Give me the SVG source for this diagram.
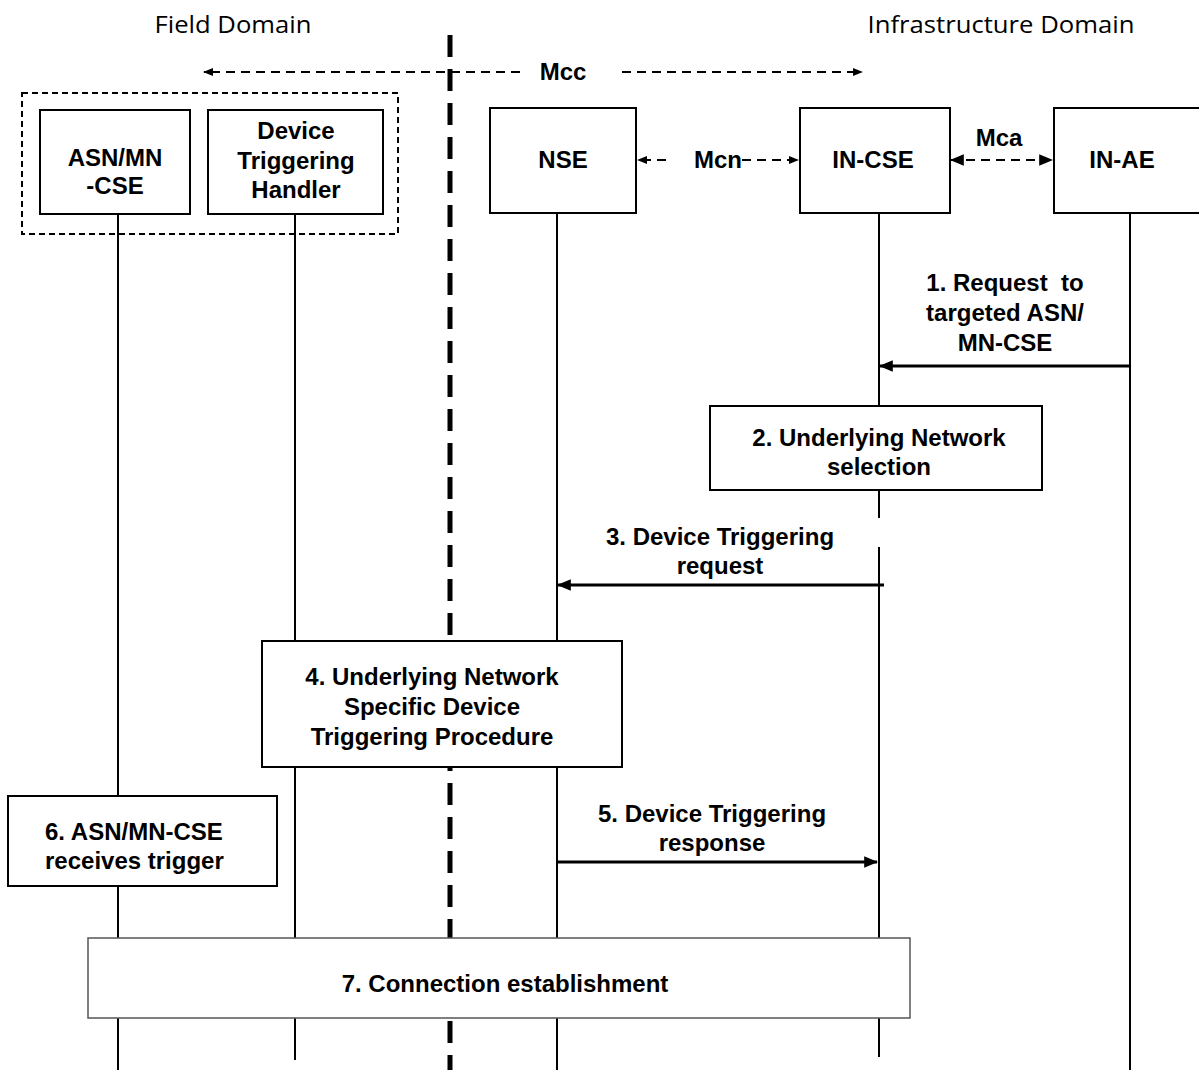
<svg xmlns="http://www.w3.org/2000/svg" width="1199" height="1070" viewBox="0 0 1199 1070">
<defs>
<style>
.dom{font-family:"Open Sans","Noto Sans",sans-serif;font-size:23px;fill:#000;text-anchor:middle}
.t{font-family:"Liberation Sans",Arial,sans-serif;font-size:24px;font-weight:bold;fill:#000;text-anchor:middle}
.ts{font-family:"Liberation Sans",Arial,sans-serif;font-size:24px;font-weight:bold;fill:#000;text-anchor:start}
.box{fill:#fff;stroke:#000;stroke-width:2}
.life{stroke:#000;stroke-width:2;fill:none}
.msg{stroke:#000;stroke-width:3;fill:none}
.dash{stroke:#000;stroke-width:2;fill:none;stroke-dasharray:9 6}
</style>
<marker id="ah" viewBox="0 0 10 10" refX="9" refY="5" markerWidth="10" markerHeight="10" markerUnits="userSpaceOnUse" orient="auto-start-reverse">
<path d="M0,1 L10,5 L0,9 Z" fill="#000"/>
</marker>
<marker id="ahb" viewBox="0 0 12 12" refX="11" refY="6" markerWidth="14" markerHeight="14" markerUnits="userSpaceOnUse" orient="auto-start-reverse">
<path d="M0,1 L12,6 L0,11 Z" fill="#000"/>
</marker>
</defs>
<rect width="1199" height="1070" fill="#fff"/>

<text class="dom" x="233" y="33" textLength="157" lengthAdjust="spacingAndGlyphs">Field Domain</text>
<text class="dom" x="1001" y="33" textLength="267" lengthAdjust="spacingAndGlyphs">Infrastructure Domain</text>

<g id="connectors">
<!-- lifelines -->
<line class="life" x1="118" y1="214" x2="118" y2="1070"/>
<line class="life" x1="295" y1="214" x2="295" y2="1060"/>
<line class="life" x1="557" y1="213" x2="557" y2="1070"/>
<line class="life" x1="879" y1="213" x2="879" y2="518"/>
<line class="life" x1="879" y1="547" x2="879" y2="1057"/>
<line class="life" x1="1130" y1="213" x2="1130" y2="1070"/>
<!-- domain separator -->
<line x1="450" y1="35" x2="450" y2="1070" stroke="#000" stroke-width="5" stroke-dasharray="22 12"/>
<!-- Mcc -->
<line class="dash" x1="520" y1="72" x2="204" y2="72" marker-end="url(#ah)"/>
<line class="dash" x1="622" y1="72" x2="862" y2="72" marker-end="url(#ah)"/>
<!-- Mcn -->
<line class="dash" x1="666" y1="160" x2="638" y2="160" marker-end="url(#ah)" stroke-dasharray="6 5"/>
<line class="dash" x1="742" y1="160" x2="798" y2="160" marker-end="url(#ah)" stroke-dasharray="9 5"/>
<!-- Mca -->
<line class="dash" x1="951" y1="160" x2="1052" y2="160" marker-start="url(#ahb)" marker-end="url(#ahb)" stroke-width="2.5" stroke-dasharray="12 7"/>
<!-- messages -->
<line class="msg" x1="1130" y1="366" x2="880" y2="366" marker-end="url(#ahb)"/>
<line class="msg" x1="884" y1="585" x2="558" y2="585" marker-end="url(#ahb)"/>
<line class="msg" x1="557" y1="862" x2="877" y2="862" marker-end="url(#ahb)"/>
</g>

<text class="t" x="563" y="80">Mcc</text>
<text class="t" x="718" y="168">Mcn</text>
<text class="t" x="999" y="146">Mca</text>

<g id="field-group">
<rect x="22" y="93" width="376" height="141" fill="none" stroke="#000" stroke-width="2" stroke-dasharray="6 4"/>
</g>
<g id="asn-mn-cse">
<rect class="box" x="40" y="110" width="150" height="104"/>
<text class="t" x="115" y="166">ASN/MN</text>
<text class="t" x="115" y="194">-CSE</text>
</g>
<g id="dth">
<rect class="box" x="208" y="110" width="175" height="104"/>
<text class="t" x="296" y="139">Device</text>
<text class="t" x="296" y="169">Triggering</text>
<text class="t" x="296" y="198">Handler</text>
</g>
<g id="nse">
<rect class="box" x="490" y="108" width="146" height="105"/>
<text class="t" x="563" y="168">NSE</text>
</g>
<g id="in-cse">
<rect class="box" x="800" y="108" width="150" height="105"/>
<text class="t" x="873" y="168">IN-CSE</text>
</g>
<g id="in-ae">
<rect class="box" x="1054" y="108" width="150" height="105"/>
<text class="t" x="1122" y="168">IN-AE</text>
</g>

<g id="step1">
<text class="t" x="1005" y="291" xml:space="preserve">1. Request  to</text>
<text class="t" x="1005" y="321">targeted ASN/</text>
<text class="t" x="1005" y="351">MN-CSE</text>
</g>
<g id="step2">
<rect class="box" x="710" y="406" width="332" height="84"/>
<text class="t" x="879" y="446">2. Underlying Network</text>
<text class="t" x="879" y="475">selection</text>
</g>
<g id="step3">
<text class="t" x="720" y="545">3. Device Triggering</text>
<text class="t" x="720" y="574">request</text>
</g>
<g id="step4">
<rect class="box" x="262" y="641" width="360" height="126"/>
<text class="t" x="432" y="685">4. Underlying Network</text>
<text class="t" x="432" y="715">Specific Device</text>
<text class="t" x="432" y="745">Triggering Procedure</text>
</g>
<g id="step5">
<text class="t" x="712" y="822">5. Device Triggering</text>
<text class="t" x="712" y="851">response</text>
</g>
<g id="step6">
<rect class="box" x="8" y="796" width="269" height="90"/>
<text class="ts" x="45" y="840">6. ASN/MN-CSE</text>
<text class="ts" x="45" y="869">receives trigger</text>
</g>
<g id="step7">
<rect x="88" y="938" width="822" height="80" fill="#fff" stroke="#555" stroke-width="1.5"/>
<text class="t" x="505" y="992">7. Connection establishment</text>
</g>
</svg>
